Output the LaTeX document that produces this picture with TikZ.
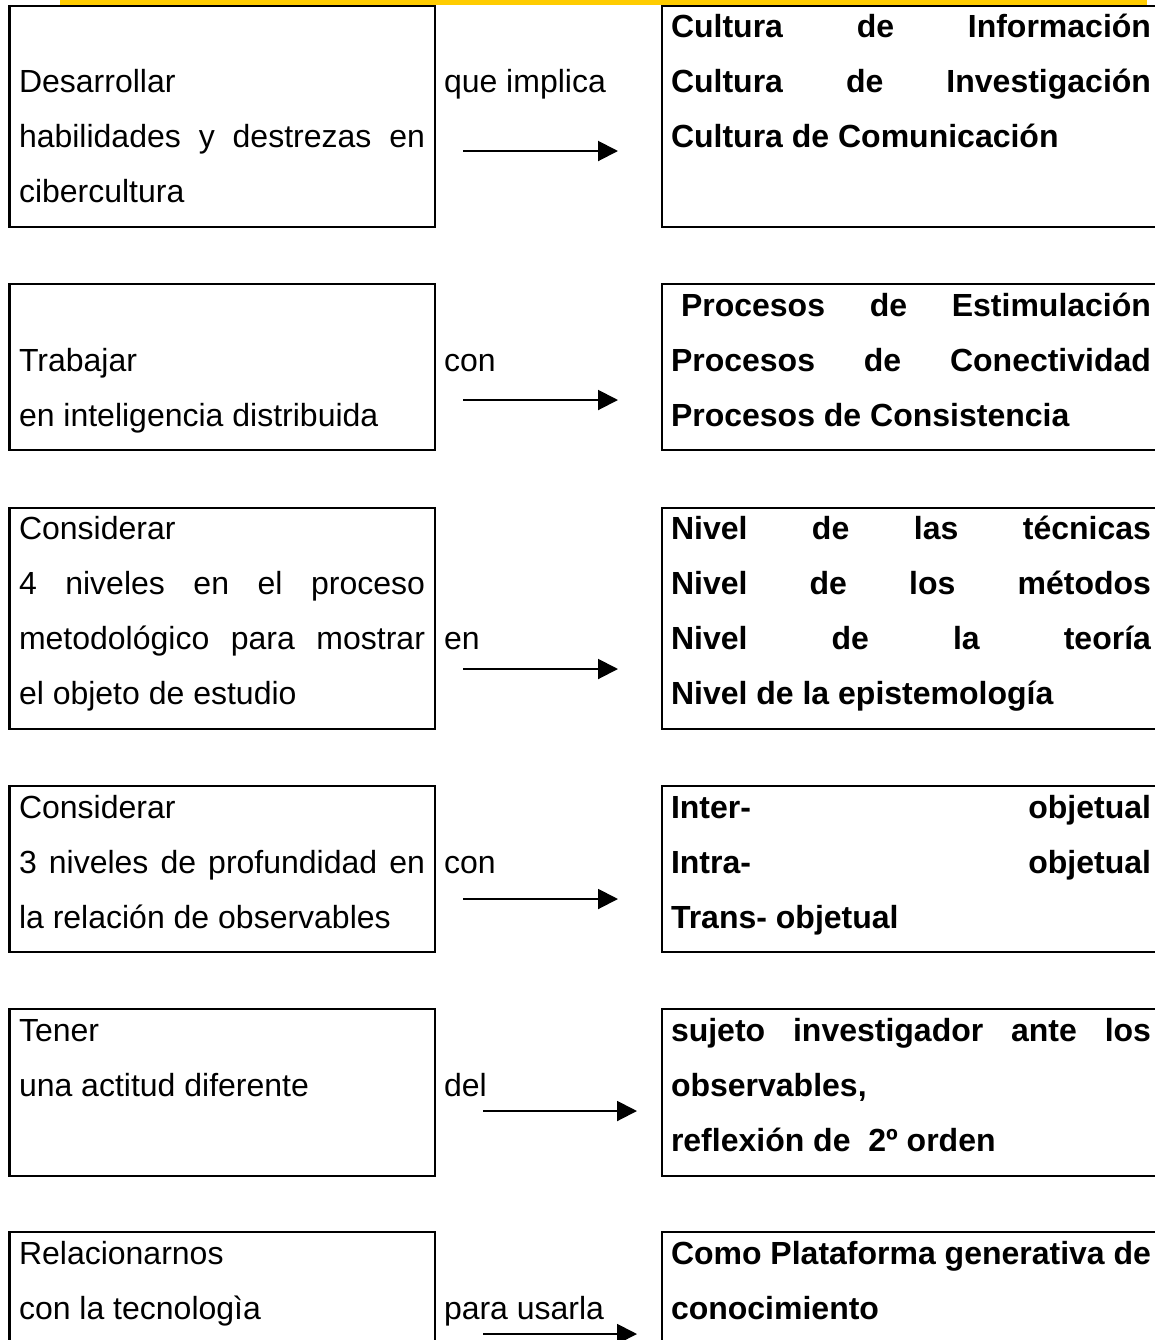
\documentclass[tikz,border=0pt]{standalone}
\usepackage{fontspec}
\setmainfont{Liberation Sans}
\usetikzlibrary{arrows.meta}
\definecolor{barYellow}{HTML}{FFCC00}
\newcommand\jusL[1]{\hbox to 203pt{#1}}
\newcommand\jusR[1]{\hbox to 240pt{#1}}
\begin{document}
\begin{tikzpicture}[x=0.5pt,y=-0.5pt,
  box/.style={draw,line width=1.25pt,anchor=north west,inner sep=0pt,outer sep=0pt},
  lbox/.style={box,minimum width=212.75pt},
  rbox/.style={box,minimum width=256.5pt},
  txt/.style={anchor=base west,inner sep=0pt,outer sep=0pt,font=\fontsize{16pt}{19pt}\selectfont},
  btxt/.style={txt,font=\fontsize{16pt}{19pt}\selectfont\bfseries},
  conn/.style={line width=1pt,-{Triangle[length=10pt,width=10pt]}}]
\fill[white] (0,0) rectangle (1155,1340);
\useasboundingbox (0,0) rectangle (1155,1340);
\fill[barYellow] (60,0) rectangle (1147,4.5);

% boxes
\node[lbox,minimum height=110.5pt] (L1) at (9.5,6) {};
\node[rbox,minimum height=110.5pt] (R1) at (662,6) {};
\node[lbox,minimum height=83pt] (L2) at (9.5,284) {};
\node[rbox,minimum height=83pt] (R2) at (662,284) {};
\node[lbox,minimum height=110.5pt] (L3) at (9.5,508) {};
\node[rbox,minimum height=110.5pt] (R3) at (662,508) {};
\node[lbox,minimum height=83pt] (L4) at (9.5,786) {};
\node[rbox,minimum height=83pt] (R4) at (662,786) {};
\node[lbox,minimum height=83.5pt] (L5) at (9.5,1009) {};
\node[rbox,minimum height=83.5pt] (R5) at (662,1009) {};
\node[lbox,minimum height=80pt] (L6) at (9.5,1232) {};
\node[rbox,minimum height=80pt] (R6) at (662,1232) {};

% row 1
\node[txt] (l1a) at (19,92) {Desarrollar};
\node[txt] (l1b) at (19,147) {\jusL{habilidades\hfill y\hfill destrezas\hfill en}};
\node[txt] (l1c) at (19,202) {cibercultura};
\node[txt] (m1) at (444,92) {que implica};
\node[btxt] (r1a) at (671,37) {\jusR{Cultura\hfill de\hfill Información}};
\node[btxt] (r1b) at (671,92) {\jusR{Cultura\hfill de\hfill Investigación}};
\node[btxt] (r1c) at (671,147) {Cultura de Comunicación};

% row 2
\node[txt] (l2a) at (19,371) {Trabajar};
\node[txt] (l2b) at (19,426) {en inteligencia distribuida};
\node[txt] (m2) at (444,371) {con};
\node[btxt] (r2a) at (681,316) {\hbox to 235pt{Procesos\hfill de\hfill Estimulación}};
\node[btxt] (r2b) at (671,371) {\jusR{Procesos\hfill de\hfill Conectividad}};
\node[btxt] (r2c) at (671,426) {Procesos de Consistencia};

% row 3
\node[txt] (l3a) at (19,539) {Considerar};
\node[txt] (l3b) at (19,594) {\jusL{4\hfill niveles\hfill en\hfill el\hfill proceso}};
\node[txt] (l3c) at (19,649) {\jusL{metodológico\hfill para\hfill mostrar}};
\node[txt] (l3d) at (19,704) {el objeto de estudio};
\node[txt] (m3) at (444,649) {en};
\node[btxt] (r3a) at (671,539) {\jusR{Nivel\hfill de\hfill las\hfill técnicas}};
\node[btxt] (r3b) at (671,594) {\jusR{Nivel\hfill de\hfill los\hfill métodos}};
\node[btxt] (r3c) at (671,649) {\jusR{Nivel\hfill de\hfill la\hfill teoría}};
\node[btxt] (r3d) at (671,704) {Nivel de la epistemología};

% row 4
\node[txt] (l4a) at (19,818) {Considerar};
\node[txt] (l4b) at (19,873) {\jusL{3\hfill niveles\hfill de\hfill profundidad\hfill en}};
\node[txt] (l4c) at (19,928) {la relación de observables};
\node[txt] (m4) at (444,873) {con};
\node[btxt] (r4a) at (671,818) {\jusR{Inter-\hfill objetual}};
\node[btxt] (r4b) at (671,873) {\jusR{Intra-\hfill objetual}};
\node[btxt] (r4c) at (671,928) {Trans- objetual};

% row 5
\node[txt] (l5a) at (19,1041) {Tener};
\node[txt] (l5b) at (19,1096) {una actitud diferente};
\node[txt] (m5) at (444,1096) {del};
\node[btxt] (r5a) at (671,1041) {\jusR{sujeto\hfill investigador\hfill ante\hfill los}};
\node[btxt] (r5b) at (671,1096) {observables,};
\node[btxt] (r5c) at (671,1151) {reflexión de \ 2º orden};

% row 6
\node[txt] (l6a) at (19,1264) {Relacionarnos};
\node[txt] (l6b) at (19,1319) {con la tecnologìa};
\node[txt] (m6) at (444,1319) {para usarla};
\node[btxt] (r6a) at (671,1264) {\jusR{Como\hfill Plataforma\hfill generativa\hfill de}};
\node[btxt] (r6b) at (671,1319) {conocimiento};

% connectors
\coordinate (s1) at (463,151); \coordinate (e1) at (618,151);
\coordinate (s2) at (463,400); \coordinate (e2) at (618,400);
\coordinate (s3) at (463,669); \coordinate (e3) at (618,669);
\coordinate (s4) at (463,899); \coordinate (e4) at (618,899);
\coordinate (s5) at (483,1111); \coordinate (e5) at (637,1111);
\coordinate (s6) at (483,1334); \coordinate (e6) at (637,1334);
\draw[conn] (s1) -- (e1);
\draw[conn] (s2) -- (e2);
\draw[conn] (s3) -- (e3);
\draw[conn] (s4) -- (e4);
\draw[conn] (s5) -- (e5);
\draw[conn] (s6) -- (e6);
\end{tikzpicture}
\end{document}
